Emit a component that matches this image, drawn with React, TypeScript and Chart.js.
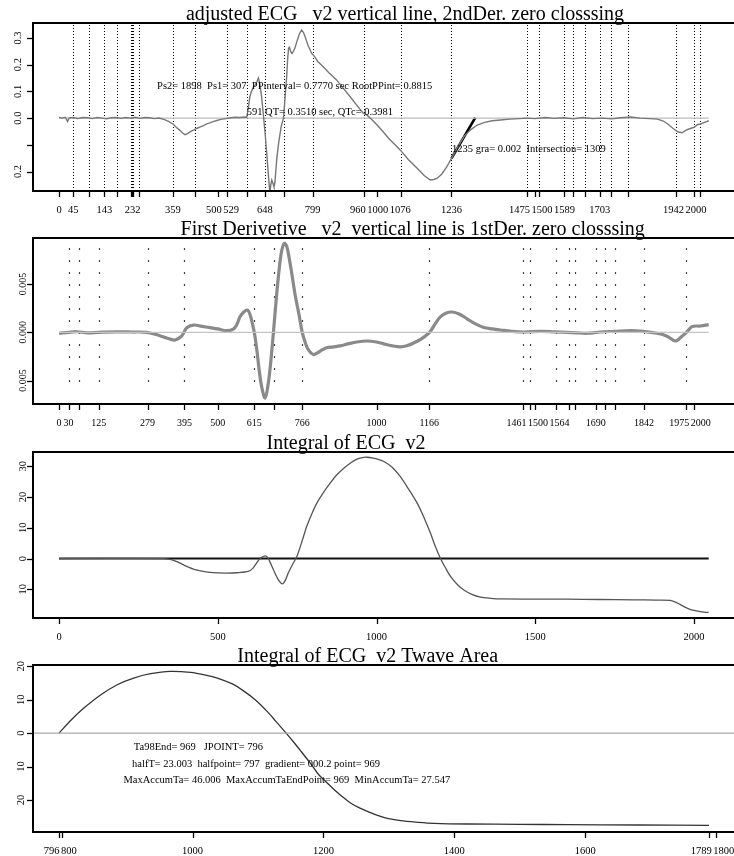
import React, { useEffect, useRef } from 'react';
import { Chart, registerables } from 'chart.js';
Chart.register(...registerables);

const FONT = '"Liberation Serif", "DejaVu Serif", "Times New Roman", serif';

// ---------- Panel 1: adjusted ECG ----------
const ecgX = [0, 10, 20, 27, 32, 45, 60, 75, 90, 105, 120, 135, 150, 165, 180, 195, 210, 225, 240, 255, 270, 285, 300, 315, 330, 345, 359, 370, 380, 390, 397, 405, 415, 425, 435, 445, 455, 465, 475, 485, 497, 510, 525, 540, 555, 570, 585, 591, 596, 601, 606, 612, 618, 623, 628, 633, 638, 643, 649, 654, 659, 664, 667, 670, 674, 677, 680, 686, 692, 700, 707, 712, 717, 720, 723, 726, 730, 734, 738, 743, 750, 757, 764, 770, 775, 785, 796, 805, 815, 832, 850, 875, 895, 917, 940, 958, 970, 985, 1002, 1020, 1040, 1060, 1075, 1100, 1128, 1150, 1169, 1180, 1190, 1205, 1220, 1236, 1255, 1275, 1295, 1317, 1340, 1365, 1390, 1420, 1450, 1474, 1500, 1530, 1560, 1590, 1620, 1650, 1680, 1710, 1740, 1770, 1800, 1830, 1860, 1885, 1905, 1920, 1935, 1950, 1962, 1975, 1988, 2000, 2010, 2020, 2035, 2046];
const ecgY = [0.002, 0.0, 0.003, -0.013, 0.001, 0.002, -0.002, 0.002, 0.001, -0.002, 0.002, 0.0, -0.003, 0.001, 0.002, -0.001, 0.002, 0.0, 0.003, -0.001, 0.002, 0.001, -0.002, 0.0, -0.005, -0.012, -0.022, -0.035, -0.045, -0.057, -0.062, -0.058, -0.05, -0.044, -0.038, -0.033, -0.028, -0.022, -0.018, -0.013, -0.009, -0.005, -0.002, 0.001, 0.003, 0.002, 0.004, 0.003, 0.035, 0.08, 0.1, 0.115, 0.125, 0.135, 0.15, 0.125, 0.08, 0.02, -0.056, -0.13, -0.207, -0.28, -0.25, -0.232, -0.245, -0.258, -0.24, -0.15, -0.09, -0.03, 0.0, 0.08, 0.155, 0.22, 0.262, 0.265, 0.248, 0.242, 0.25, 0.262, 0.29, 0.315, 0.33, 0.32, 0.305, 0.27, 0.242, 0.23, 0.212, 0.192, 0.17, 0.142, 0.112, 0.08, 0.045, 0.018, 0.011, -0.005, -0.026, -0.05, -0.078, -0.102, -0.12, -0.155, -0.188, -0.215, -0.232, -0.23, -0.226, -0.21, -0.185, -0.151, -0.11, -0.07, -0.045, -0.026, -0.016, -0.01, -0.007, -0.004, -0.002, 0.0, -0.002, 0.002, -0.001, 0.001, -0.003, 0.002, -0.002, 0.0, -0.003, 0.001, 0.004, 0.0, -0.002, -0.004, -0.012, -0.025, -0.04, -0.052, -0.055, -0.045, -0.039, -0.035, -0.025, -0.022, -0.015, -0.01];
const tangentX = [1236, 1311];
const tangentY = [-0.151, 0.002];
const p1VLines = [45, 95, 143, 182, 228, 231, 234, 253, 359, 428, 529, 593, 648, 709, 799, 960, 1076, 1236, 1475, 1511, 1589, 1618, 1658, 1703, 1739, 1791, 1942, 2000, 2020];
const p1XTicks = [0, 45, 95, 143, 182, 228, 231, 234, 253, 359, 428, 500, 529, 593, 648, 709, 799, 960, 1000, 1076, 1236, 1475, 1500, 1511, 1589, 1618, 1658, 1703, 1739, 1791, 1942, 2000, 2020];
const p1XLabels = [0, 45, 143, 232, 359, 500, 529, 648, 799, 960, 1000, 1076, 1236, 1475, 1500, 1589, 1703, 1942, 2000];
const p1YTicks = [0.3, 0.2, 0.1, 0, -0.1, -0.2];
const p1YLabels = ['0.3', '0.2', '0.1', '0.0', '', '0.2'];
const p1Notes = [
  { x: 309, y: 0.12, text: 'Ps2= 1898  Ps1= 307  PPinterval= 0.7770 sec RootPPint= 0.8815' },
  { x: 591, y: 0.0236, text: '591 QT= 0.3510 sec, QTc= 0.3981' },
  { x: 1238, y: -0.117, text: '1235 gra= 0.002  Intersection= 1309' },
];

// ---------- Panel 2: first derivative ----------
const derX = [0, 30, 56, 90, 125, 180, 230, 276, 308, 335, 365, 386, 402, 423, 450, 476, 500, 528, 549, 560, 570, 582, 593, 601, 609, 615, 623, 630, 638, 649, 659, 667, 675, 683, 691, 700, 709, 716, 722, 732, 743, 756, 766, 775, 785, 801, 815, 830, 843, 865, 885, 910, 938, 969, 1000, 1023, 1050, 1075, 1095, 1117, 1140, 1167, 1185, 1201, 1220, 1238, 1260, 1285, 1310, 1338, 1365, 1390, 1425, 1464, 1517, 1560, 1600, 1630, 1663, 1705, 1750, 1800, 1840, 1884, 1915, 1941, 1962, 1976, 1994, 2020, 2046];
const derY = [-0.0001, 0.0, 0.00006, -0.00005, 0.0, 0.00005, 0.00003, 0.0, -0.00025, -0.00055, -0.0008, -0.0004, 0.00045, 0.00075, 0.00062, 0.00048, 0.00035, 0.00017, 0.00034, 0.0008, 0.0016, 0.0021, 0.0023, 0.0019, 0.0009, 0.0, -0.0018, -0.0038, -0.0056, -0.0068, -0.0053, -0.003, -0.0001, 0.003, 0.0058, 0.0082, 0.0092, 0.009, 0.0082, 0.0063, 0.004, 0.0018, 0.0, -0.001, -0.0018, -0.0023, -0.0021, -0.0018, -0.0016, -0.0015, -0.0014, -0.0012, -0.001, -0.0009, -0.001, -0.0012, -0.0014, -0.0015, -0.0014, -0.0011, -0.0007, 0.0, 0.0009, 0.0016, 0.002, 0.0021, 0.0019, 0.0014, 0.0009, 0.0005, 0.00035, 0.00024, 0.0001, 0.00003, 0.0001, 0.00005, 0.0, -0.00005, -0.0001, 0.00003, 0.0001, 0.00017, 0.0001, -0.0001, -0.0004, -0.0009, -0.0004, 0.0, 0.0006, 0.00065, 0.0008];
const p2VLines = [30, 64, 125, 279, 395, 615, 677, 766, 1166, 1461, 1484, 1564, 1607, 1626, 1690, 1721, 1752, 1842, 1975];
const p2VRange = [-0.0062, 0.0087];
const p2XTicks = [0, 30, 64, 125, 279, 395, 500, 615, 677, 766, 1000, 1166, 1461, 1484, 1500, 1564, 1607, 1626, 1690, 1721, 1752, 1842, 1975, 2000];
const p2XLabels = [0, 30, 125, 279, 395, 500, 615, 766, 1000, 1166, 1461, 1500, 1564, 1690, 1842, 1975, 2000];
const p2YTicks = [0.005, 0, -0.005];
const p2YLabels = ['0.005', '0.000', '0.005'];

// ---------- Panel 3: integral ----------
const intX = [0, 328, 350, 371, 395, 423, 450, 476, 500, 528, 560, 596, 610, 622, 635, 649, 657, 664, 676, 691, 704, 713, 722, 735, 749, 765, 780, 796, 812, 833, 854, 875, 897, 918, 938, 955, 969, 990, 1005, 1023, 1050, 1075, 1100, 1128, 1150, 1170, 1185, 1201, 1217, 1233, 1255, 1275, 1300, 1327, 1360, 1390, 1500, 1600, 1700, 1810, 1880, 1925, 1945, 1968, 1985, 2004, 2025, 2046];
const intY = [0, 0, -0.3, -0.97, -2.2, -3.4, -4.1, -4.5, -4.65, -4.7, -4.6, -4.2, -3.2, -1.5, 0.2, 0.9, 0.4, -1.0, -3.8, -6.9, -8.2, -7.0, -4.7, -2.0, 0.65, 5.5, 10.4, 14.5, 18.0, 21.5, 24.5, 27.2, 29.3, 31.0, 32.3, 32.8, 32.9, 32.6, 32.2, 31.5, 29.6, 26.6, 22.7, 18.0, 13.2, 8.2, 4.0, 0.1, -3.0, -5.8, -8.5, -10.2, -11.6, -12.5, -12.9, -13.1, -13.15, -13.2, -13.3, -13.4, -13.5, -13.6, -14.3, -15.6, -16.4, -16.9, -17.3, -17.5];
const p3XTicks = [0, 500, 1000, 1500, 2000];
const p3YTicks = [30, 20, 10, 0, -10];
const p3YLabels = ['30', '20', '10', '0', '10'];

// ---------- Panel 4: T wave area integral ----------
const twX = [796, 815, 834, 860, 885, 910, 936, 966, 997, 1020, 1038, 1060, 1079, 1097, 1114, 1127, 1143, 1155, 1166, 1180, 1191, 1205, 1217, 1230, 1242, 1255, 1268, 1292, 1318, 1345, 1369, 1420, 1500, 1573, 1680, 1789];
const twY = [0, 4.0, 7.5, 11.5, 14.5, 16.5, 17.8, 18.5, 18.2, 17.4, 16.5, 14.8, 12.5, 9.8, 6.5, 3.6, 0.0, -2.8, -5.5, -9.0, -12.0, -14.8, -17.0, -19.2, -21.0, -22.4, -23.5, -25.2, -26.2, -26.7, -27.0, -27.2, -27.3, -27.4, -27.5, -27.6];
const p4XTicks = [796, 800, 1000, 1200, 1400, 1600, 1789, 1800];
const p4YTicks = [20, 10, 0, -10, -20];
const p4YLabels = ['20', '10', '0', '10', '20'];
const p4Notes = [
  { x: 1009, y: -4.2, text: 'Ta98End= 969   JPOINT= 796' },
  { x: 1097, y: -9.2, text: 'halfT= 23.003  halfpoint= 797  gradient= 000.2 point= 969' },
  { x: 1144, y: -14.0, text: 'MaxAccumTa= 46.006  MaxAccumTaEndPoint= 969  MinAccumTa= 27.547' },
];

const pts = (xs: number[], ys: number[]) => xs.map((x, i) => ({ x, y: ys[i] }));

// spread crowded tick labels apart (groups centred on their ticks)
function spreadLabels(items: { c: number; w: number }[], gap: number) {
  let groups = items.map((it) => ({ items: [it], left: 0, right: 0 }));
  const lay = (g: any) => {
    const total = g.items.reduce((s: number, it: any) => s + it.w, 0) + gap * (g.items.length - 1);
    const mean = g.items.reduce((s: number, it: any) => s + it.c, 0) / g.items.length;
    let x = mean - total / 2;
    g.left = x;
    for (const it of g.items) { it.pos = x + it.w / 2; x += it.w + gap; }
    g.right = x - gap;
  };
  groups.forEach(lay);
  let changed = true;
  while (changed) {
    changed = false;
    for (let i = 0; i < groups.length - 1; i++) {
      if (groups[i].right + gap > groups[i + 1].left) {
        groups[i].items = groups[i].items.concat(groups[i + 1].items);
        groups.splice(i + 1, 1);
        lay(groups[i]);
        changed = true;
        break;
      }
    }
  }
}

function rPlugin(cfg: any) {
  return {
    id: 'rstyle',
    beforeDatasetsDraw(chart: any) {
      const { ctx, chartArea: a, scales } = chart;
      const xs = scales.x, ys = scales.y;
      if (!cfg.vlines) return;
      ctx.save();
      ctx.strokeStyle = '#000';
      ctx.lineWidth = cfg.vlineWidth || 1;
      ctx.setLineDash(cfg.vlineDash);
      for (const v of cfg.vlines) {
        const px = Math.round(xs.getPixelForValue(v)) + 0.5;
        const y0 = cfg.vlineRange ? ys.getPixelForValue(cfg.vlineRange[1]) : a.top + 2;
        const y1 = cfg.vlineRange ? ys.getPixelForValue(cfg.vlineRange[0]) : a.bottom;
        ctx.beginPath();
        ctx.moveTo(px, y0);
        ctx.lineTo(px, y1);
        ctx.stroke();
      }
      ctx.restore();
    },
    afterDraw(chart: any) {
      const { ctx, chartArea: a, scales } = chart;
      const xs = scales.x, ys = scales.y;
      ctx.save();
      ctx.strokeStyle = '#000';
      ctx.fillStyle = '#000';
      ctx.setLineDash([]);
      // box
      ctx.lineWidth = 2;
      ctx.strokeRect(a.left, a.top, a.right - a.left, a.bottom - a.top);
      // x ticks
      ctx.lineWidth = 1.3;
      for (const t of cfg.xTicks) {
        const px = Math.round(xs.getPixelForValue(t)) + 0.5;
        ctx.beginPath();
        ctx.moveTo(px, a.bottom);
        ctx.lineTo(px, a.bottom + 6);
        ctx.stroke();
      }
      ctx.font = `${cfg.tickFont}px ${FONT}`;
      ctx.textAlign = 'center';
      ctx.textBaseline = 'alphabetic';
      const items = cfg.xLabels.map((t: number) => ({
        text: String(t), c: xs.getPixelForValue(t), w: ctx.measureText(String(t)).width, pos: 0,
      }));
      spreadLabels(items, 1.5);
      for (const it of items) ctx.fillText(it.text, it.pos, a.bottom + 21.5);
      // y ticks
      cfg.yTicks.forEach((v: number, i: number) => {
        const py = Math.round(ys.getPixelForValue(v)) + 0.5;
        ctx.beginPath();
        ctx.moveTo(a.left - 6, py);
        ctx.lineTo(a.left, py);
        ctx.stroke();
        const lab = cfg.yLabels[i];
        if (lab) {
          ctx.save();
          ctx.translate(cfg.yLabelX, ys.getPixelForValue(v));
          ctx.rotate(-Math.PI / 2);
          ctx.textAlign = 'center';
          ctx.fillText(lab, 0, 0);
          ctx.restore();
        }
      });
      // title
      ctx.font = `20px ${FONT}`;
      ctx.textAlign = 'center';
      ctx.fillText(cfg.title, cfg.titleX, a.top - 3.3);
      // notes
      if (cfg.notes) {
        ctx.font = `10.5px ${FONT}`;
        ctx.textAlign = cfg.noteAlign;
        ctx.textBaseline = 'middle';
        for (const n of cfg.notes) {
          ctx.fillText(n.text, xs.getPixelForValue(n.x), ys.getPixelForValue(n.y));
        }
      }
      ctx.restore();
    },
  };
}

function Panel({ datasets, xlim, ylim, pad, cfg }: any) {
  const ref = useRef<HTMLCanvasElement>(null);
  useEffect(() => {
    const chart = new Chart(ref.current as HTMLCanvasElement, {
      type: 'line',
      data: { datasets },
      options: {
        animation: false,
        responsive: false,
        devicePixelRatio: 1,
        events: [],
        layout: { padding: { left: 33, right: 5, top: pad[0], bottom: pad[1] } },
        scales: {
          x: { type: 'linear', min: xlim[0], max: xlim[1], display: false },
          y: { type: 'linear', min: ylim[0], max: ylim[1], display: false },
        },
        plugins: { legend: { display: false }, tooltip: { enabled: false }, title: { display: false } },
        elements: { point: { radius: 0 } },
      },
      plugins: [rPlugin(cfg)],
    } as any);
    return () => chart.destroy();
  }, []);
  return <canvas ref={ref} width={740} height={214} style={{ display: 'block' }} />;
}

const line = (data: any, color: string, width: number, extra: any = {}) => ({
  data, borderColor: color, borderWidth: width, pointRadius: 0, fill: false, tension: 0, ...extra,
});

export default function App() {
  const fullX = [-81.9, 2128.9];
  return (
    <div style={{ position: 'absolute', left: 0, top: 0, width: 734, height: 856, overflow: 'hidden', background: '#fff' }}>
      <Panel
        xlim={fullX}
        ylim={[-0.273, 0.356]}
        pad={[23, 23]}
        datasets={[
          line(pts(ecgX, ecgY), '#777777', 1.4),
          line(pts([ecgX[0], ecgX[ecgX.length - 1]], [0, 0]), '#bdbdbd', 1.3),
          line(pts(tangentX, tangentY), '#000', 2.6),
        ]}
        cfg={{
          vlines: p1VLines, vlineDash: [1, 2], vlineWidth: 1,
          xTicks: p1XTicks, xLabels: p1XLabels, tickFont: 10.5,
          yTicks: p1YTicks, yLabels: p1YLabels, yLabelX: 21,
          title: 'adjusted ECG   v2 vertical line, 2ndDer. zero closssing', titleX: 405,
          notes: p1Notes, noteAlign: 'left',
        }}
      />
      <Panel
        xlim={fullX}
        ylim={[-0.00742, 0.00976]}
        pad={[24, 24]}
        datasets={[
          line(pts([derX[0], derX[derX.length - 1]], [0, 0]), '#c4c4c4', 1.3),
          line(pts(derX, derY), '#8a8a8a', 3.2, { tension: 0.35 }),
        ]}
        cfg={{
          vlines: p2VLines, vlineDash: [1.4, 10.6], vlineWidth: 1.2, vlineRange: p2VRange,
          xTicks: p2XTicks, xLabels: p2XLabels, tickFont: 10,
          yTicks: p2YTicks, yLabels: p2YLabels, yLabelX: 25.5,
          title: 'First Derivetive   v2  vertical line is 1stDer. zero closssing', titleX: 412.7,
        }}
      />
      <Panel
        xlim={fullX}
        ylim={[-19.3, 34.6]}
        pad={[24, 24]}
        datasets={[
          line(pts(intX, intY), '#555555', 1.3, { tension: 0.3 }),
          line(pts([intX[0], intX[intX.length - 1]], [0, 0]), '#111', 2),
        ]}
        cfg={{
          xTicks: p3XTicks, xLabels: p3XTicks, tickFont: 10.5,
          yTicks: p3YTicks, yLabels: p3YLabels, yLabelX: 26,
          title: 'Integral of ECG  v2', titleX: 346,
        }}
      />
      <Panel
        xlim={[756.3, 1828.7]}
        ylim={[-29.6, 20.4]}
        pad={[23, 24]}
        datasets={[
          line(pts([756.3, 1828.7], [0, 0]), '#aaaaaa', 1.3),
          line(pts(twX, twY), '#333333', 1.3, { tension: 0.3 }),
        ]}
        cfg={{
          xTicks: p4XTicks, xLabels: p4XTicks, tickFont: 10.5,
          yTicks: p4YTicks, yLabels: p4YLabels, yLabelX: 24,
          title: 'Integral of ECG  v2 Twave Area', titleX: 367.7,
          notes: p4Notes, noteAlign: 'center',
        }}
      />
    </div>
  );
}
